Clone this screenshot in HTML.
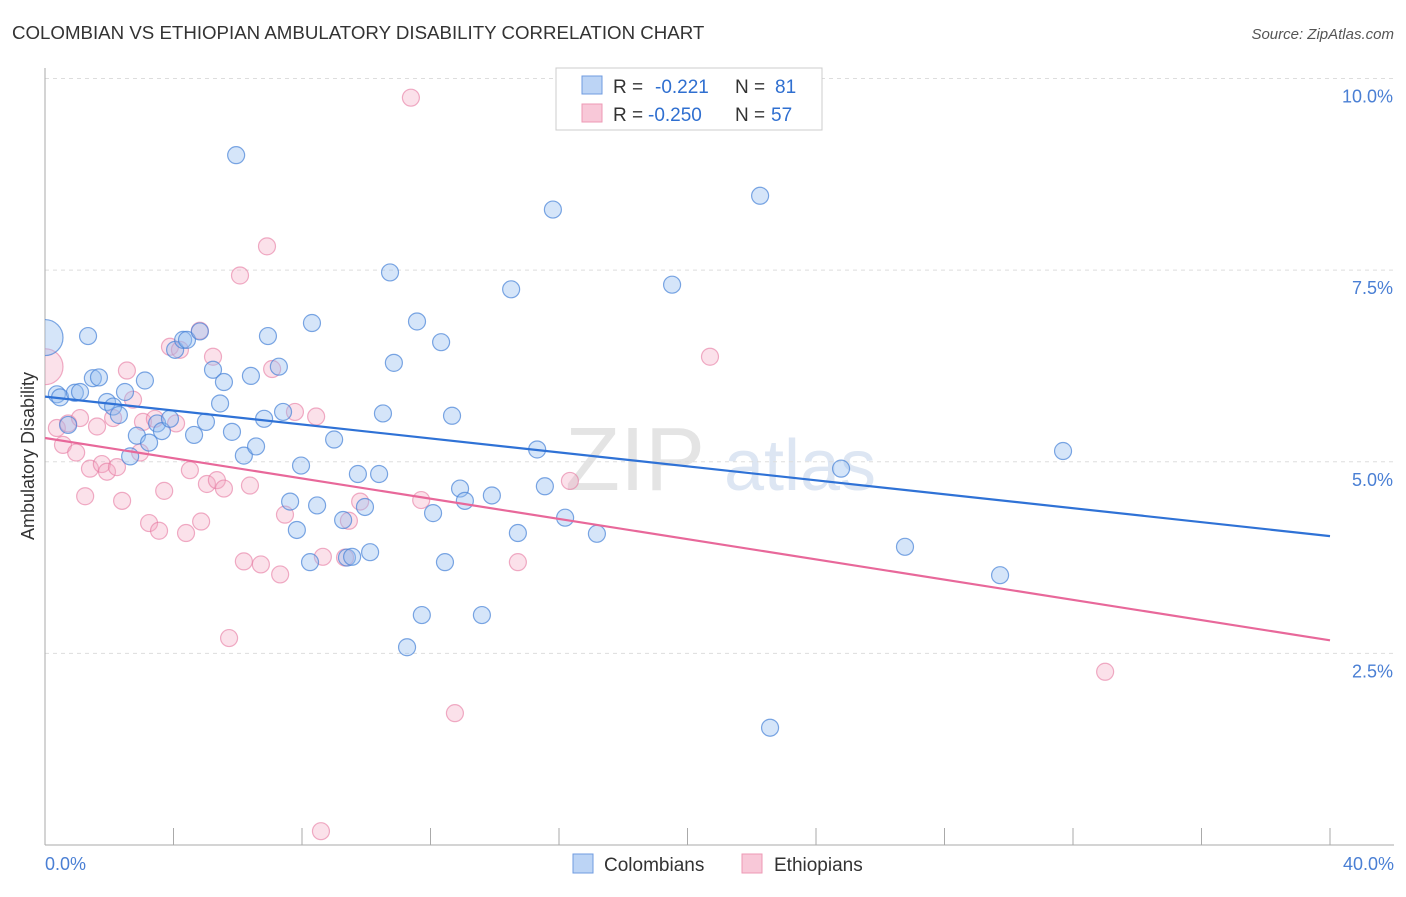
<!DOCTYPE html>
<html><head><meta charset="utf-8"><style>
body{margin:0;background:#fff;font-family:"Liberation Sans",sans-serif}
svg text{font-family:"Liberation Sans",sans-serif}
</style></head><body>
<svg id="c" width="1406" height="892">
<defs><clipPath id="plot"><rect x="45" y="60" width="1360" height="785"/></clipPath></defs>
<text x="12" y="39" font-size="18.7" fill="#333">COLOMBIAN VS ETHIOPIAN AMBULATORY DISABILITY CORRELATION CHART</text>
<text x="1394" y="39" font-size="15" fill="#555" font-style="italic" text-anchor="end">Source: ZipAtlas.com</text>
<text x="635" y="490" font-size="90" fill="#e4e4e4" font-family="Liberation Serif" text-anchor="middle">ZIP</text>
<text x="800" y="490" font-size="72" fill="#dde6f3" text-anchor="middle">atlas</text>
<g id="grid"></g><g id="pts" clip-path="url(#plot)"></g><g id="lines"></g>
<text transform="translate(34,456) rotate(-90)" font-size="18" fill="#333" text-anchor="middle">Ambulatory Disability</text>
<g>
<rect x="556" y="68" width="266" height="62" fill="#fff" stroke="#ccc"/>
<rect x="582" y="76" width="20" height="18" fill="#bcd4f5" stroke="#6f9be0"/>
<rect x="582" y="104" width="20" height="18" fill="#f8c8d8" stroke="#ee99b5"/>
<text x="613" y="93" font-size="19" fill="#333">R =</text><text x="655" y="93" font-size="19" fill="#2f6fd0">-0.221</text>
<text x="735" y="93" font-size="19" fill="#333">N =</text><text x="775" y="93" font-size="19" fill="#2f6fd0">81</text>
<text x="613" y="121" font-size="19" fill="#333">R =</text><text x="648" y="121" font-size="19" fill="#2f6fd0">-0.250</text>
<text x="735" y="121" font-size="19" fill="#333">N =</text><text x="771" y="121" font-size="19" fill="#2f6fd0">57</text>
</g>
<g>
<rect x="573" y="854" width="20" height="19" fill="#bcd4f5" stroke="#6f9be0"/>
<text x="604" y="871" font-size="19" fill="#333">Colombians</text>
<rect x="742" y="854" width="20" height="19" fill="#f8c8d8" stroke="#ee99b5"/>
<text x="774" y="871" font-size="19" fill="#333">Ethiopians</text>
</g>
</svg>
<script>
const blueX=[0,1.34,0.37,0.47,0.93,1.09,1.49,1.68,0.72,1.93,2.12,2.3,2.49,3.11,2.86,2.65,3.24,3.49,3.64,3.89,4.05,4.3,4.42,4.82,4.64,5.01,5.23,5.45,5.57,5.82,5.95,6.19,6.41,6.57,6.82,6.94,7.28,7.41,7.84,7.63,7.97,8.31,8.47,8.25,9.0,9.28,9.4,9.56,9.74,9.96,10.12,10.4,10.52,10.74,10.86,11.58,11.73,11.27,12.08,12.33,12.45,12.67,12.92,13.07,13.6,13.91,14.51,14.72,15.32,15.56,15.81,16.19,17.18,17.77,19.52,22.26,22.57,24.78,26.77,29.73,31.69];
const blueY=[6.62,6.64,5.88,5.84,5.9,5.91,6.09,6.1,5.48,5.78,5.72,5.61,5.91,6.06,5.34,5.07,5.25,5.5,5.4,5.56,6.46,6.59,6.59,6.7,5.35,5.52,6.2,5.76,6.04,5.39,9.0,5.08,6.12,5.2,5.56,6.64,6.24,5.65,4.11,4.48,4.95,6.81,4.43,3.69,5.29,4.24,3.75,3.76,4.84,4.41,3.82,4.84,5.63,7.47,6.29,6.83,3.0,2.58,4.33,6.56,3.69,5.6,4.65,4.49,3.0,4.56,7.25,4.07,5.16,4.68,8.29,4.27,4.06,10.0,7.31,8.47,1.53,4.91,3.89,3.52,5.14];
const pinkX=[0,0.37,0.56,0.72,0.97,1.09,1.25,1.4,1.62,1.77,1.93,2.12,2.24,2.4,2.55,2.74,2.96,3.05,3.24,3.42,3.55,3.71,3.89,4.08,4.2,4.39,4.51,4.82,4.86,5.04,5.23,5.35,5.57,5.73,6.07,6.19,6.38,6.72,6.91,7.07,7.32,7.47,7.78,8.44,8.59,8.65,9.34,9.46,9.81,11.39,11.71,12.76,14.72,16.34,20.7,33.0];
const pinkY=[6.24,5.44,5.22,5.5,5.12,5.57,4.55,4.91,5.46,4.97,4.87,5.57,4.93,4.49,6.19,5.81,5.12,5.52,4.2,5.56,4.1,4.62,6.5,5.5,6.46,4.07,4.89,6.71,4.22,4.71,6.37,4.76,4.65,2.7,7.43,3.7,4.69,3.66,7.81,6.21,3.53,4.31,5.65,5.59,0.18,3.76,3.75,4.23,4.48,9.75,4.5,1.72,3.69,4.75,6.37,2.26];
const X=v=>45+v*32.125, Y=v=>845-v*76.65;
const ns="http://www.w3.org/2000/svg";
function mk(t,a,p){const e=document.createElementNS(ns,t);for(const k in a)e.setAttribute(k,a[k]);p.appendChild(e);return e;}
const g=document.getElementById('grid');
[2.5,5,7.5,10].forEach(v=>{mk('line',{x1:45,x2:1394,y1:Y(v),y2:Y(v),stroke:'#ddd','stroke-dasharray':'4,4'},g);
const t=mk('text',{x:1393,y:Y(v)+24,'font-size':18,fill:'#4a7fd4','text-anchor':'end'},g);t.textContent=v.toFixed(1)+'%';

});
mk('line',{x1:45,x2:45,y1:68,y2:845,stroke:'#aaa'},g);
mk('line',{x1:45,x2:1394,y1:845,y2:845,stroke:'#aaa'},g);
for(let i=0;i<=10;i++)mk('line',{x1:X(i*4),x2:X(i*4),y1:828,y2:845,stroke:'#aaa'},g);
let t=mk('text',{x:45,y:870,'font-size':18,fill:'#4a7fd4'},g);t.textContent='0.0%';

t=mk('text',{x:1394,y:870,'font-size':18,fill:'#4a7fd4','text-anchor':'end'},g);t.textContent='40.0%';

const p=document.getElementById('pts');
pinkX.forEach((x,i)=>{const c=mk('circle',{cx:X(x),cy:Y(pinkY[i]),r:i==0?18:8.5,fill:'rgba(244,170,195,0.35)',stroke:'rgba(230,120,160,0.6)','stroke-width':1.2},p);
});
blueX.forEach((x,i)=>{const c=mk('circle',{cx:X(x),cy:Y(blueY[i]),r:i==0?18:8.5,fill:'rgba(150,190,240,0.4)',stroke:'rgba(70,130,215,0.7)','stroke-width':1.2},p);
});
const l=document.getElementById('lines');
let a=mk('line',{x1:X(0),y1:Y(5.85),x2:X(40),y2:Y(4.03),stroke:'#2f72d6','stroke-width':2.2},l);

a=mk('line',{x1:X(0),y1:Y(5.31),x2:X(40),y2:Y(2.67),stroke:'#e8689a','stroke-width':2.2},l);

</script>
</body></html>
